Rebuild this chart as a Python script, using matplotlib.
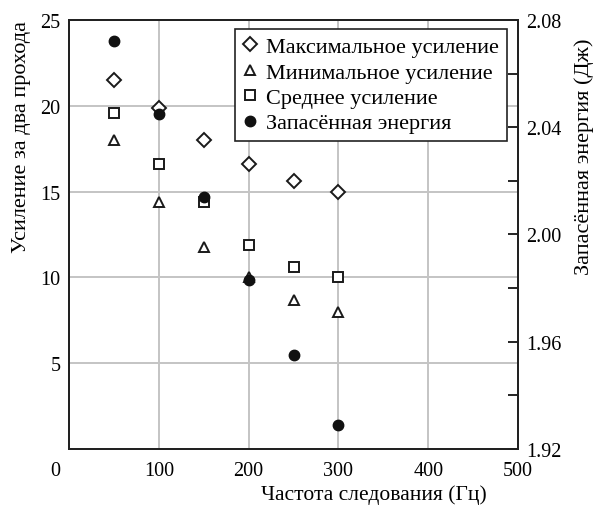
import matplotlib
matplotlib.use("Agg")
import matplotlib.pyplot as plt
from matplotlib.transforms import ScaledTranslation

plt.rcParams['font.family'] = ['Liberation Serif', 'DejaVu Serif']
plt.rcParams['font.size'] = 14

freq = [50, 100, 150, 200, 250, 300]
gain_max = [21.5, 19.9, 18.0, 16.6, 15.6, 15.0]
gain_min = [18.0, 14.4, 11.8, 10.0, 8.7, 8.0]
gain_mean = [19.6, 16.6, 14.4, 11.9, 10.6, 10.0]
energy = [2.072, 2.045, 2.014, 1.983, 1.955, 1.929]

x_ticks = [0, 100, 200, 300, 400, 500]
y_ticks = [5, 10, 15, 20, 25]
energy_ticks = [1.92, 1.94, 1.96, 1.98, 2.00, 2.02, 2.04, 2.06, 2.08]
energy_labels = ['1.92', '', '1.96', '', '2.00', '', '2.04', '', '2.08']

fig = plt.figure(figsize=(5.99, 5.06), dpi=100)
ax = fig.add_axes([0.1152, 0.1107, 0.7496, 0.8478])
ax2 = ax.twinx()

ax.set_xlim(0, 500)
ax.set_ylim(0, 25)
ax2.set_ylim(1.92, 2.08)

ax.grid(True, color='#c4c4c4', linewidth=1.4)
ax.set_axisbelow(True)

for sp in list(ax.spines.values()) + list(ax2.spines.values()):
    sp.set_linewidth(1.4)
    sp.set_color('#222222')

h1, = ax.plot(freq, gain_max, linestyle='none', marker='D', markersize=7,
              markerfacecolor='white', markeredgecolor='#1a1a1a', markeredgewidth=1.4,
              label='Максимальное усиление', zorder=3)
h2, = ax.plot(freq, gain_min, linestyle='none', marker='^', markersize=6.5,
              markerfacecolor='white', markeredgecolor='#1a1a1a', markeredgewidth=1.4,
              label='Минимальное усиление', zorder=3)
h3, = ax.plot(freq, gain_mean, linestyle='none', marker='s', markersize=7,
              markerfacecolor='white', markeredgecolor='#1a1a1a', markeredgewidth=1.4,
              label='Среднее усиление', zorder=3)
h4, = ax2.plot(freq, energy, linestyle='none', marker='o', markersize=7.5,
               markerfacecolor='#111111', markeredgecolor='#111111',
               label='Запасённая энергия', zorder=3)

ax.set_xticks(x_ticks)
ax.set_yticks(y_ticks)
ax.tick_params(axis='x', length=0, pad=9, labelsize=14.5)
ax.tick_params(axis='y', length=0, pad=6, labelsize=14.5)
ax2.set_yticks(energy_ticks)
ax2.set_yticklabels(energy_labels)
ax2.tick_params(axis='y', direction='in', length=7, width=1.2, pad=6, labelsize=14.5)

# shift the shared corner zero slightly to the left
zero = ax.get_xticklabels()[0]
zero.set_transform(zero.get_transform() + ScaledTranslation(-10 / 72, 0, fig.dpi_scale_trans))

ax.set_xlabel('Частота следования (Гц)', fontsize=15.5)
ax.xaxis.set_label_coords(0.68, -0.083)
ax.set_ylabel('Усиление за два прохода', fontsize=16)
ax.yaxis.set_label_coords(-0.084, 0.73)
ax2.set_ylabel('Запасённая энергия (Дж)', fontsize=16)
ax2.yaxis.set_label_coords(1.125, 0.683)

leg = ax2.legend(handles=[h1, h2, h3, h4], loc='upper right',
                 bbox_to_anchor=(0.985, 0.99), fontsize=16, frameon=True,
                 fancybox=False, framealpha=1, edgecolor='#222222',
                 handlelength=0.6, handletextpad=0.45, borderpad=0.35,
                 labelspacing=0.22, borderaxespad=0.2)
leg.get_frame().set_linewidth(1.2)

fig.savefig('out.png', dpi=100)
